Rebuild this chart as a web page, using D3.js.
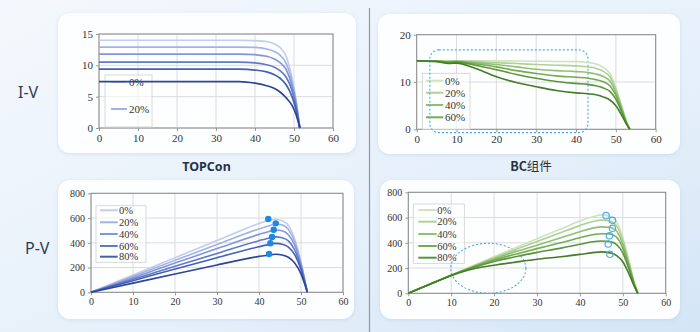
<!DOCTYPE html>
<html><head><meta charset="utf-8">
<script src="https://cdn.jsdelivr.net/npm/d3@7"></script>
<style>body{margin:0;background:#fff}svg{display:block}.serif{font-family:"Liberation Serif","Times New Roman",serif}</style>
</head><body><svg id="c" width="700" height="332"></svg>
<script>
// ---------- DATA ----------
const xTicks = [0, 10, 20, 30, 40, 50, 60];
const ivTopconTicksY = [0, 5, 10, 15];
const ivBcTicksY = [0, 10, 20];
const pvTicksY = [0, 200, 400, 600, 800];

const legendIVTopcon = ["0%", "20%"];
const legendIVBc = ["0%", "20%", "40%", "60%"];
const legendPV = ["0%", "20%", "40%", "60%", "80%"];

const blues = ["#c3ccee", "#a2b2e5", "#8296d9", "#6079c8", "#4560b3", "#2d4597"];
const greens = ["#cfe3bd", "#b0d195", "#92c072", "#75ab53", "#5a953b", "#427e27"];

// TOPCon I-V (voltage V, current A)
const topconIVVolt = [0, 36, 40, 43, 45, 46.5, 48, 49.5, 50.5, 51.5];
const topconIVCurr = [
  [14.0, 14.0, 13.95, 13.8, 13.4, 12.8, 11.4, 8.0, 4.6, 0],
  [12.9, 12.9, 12.85, 12.6, 12.2, 11.6, 10.3, 7.4, 4.3, 0],
  [11.8, 11.8, 11.7, 11.45, 11.0, 10.4, 9.3, 6.7, 3.9, 0],
  [10.5, 10.5, 10.4, 10.1, 9.7, 9.1, 8.1, 6.0, 3.5, 0],
  [9.4, 9.4, 9.25, 8.95, 8.5, 7.9, 6.9, 5.0, 3.0, 0],
  [7.4, 7.4, 7.15, 6.75, 6.3, 5.7, 4.8, 3.6, 2.2, 0]
];

// BC I-V
const bcIVVolt = [0, 5, 8, 10, 15, 20, 25, 30, 35, 40, 43, 45, 47, 48.5, 50, 51.5, 52.7, 53.5];
const bcIVCurr = [
  [14.5, 14.5, 14.5, 14.5, 14.5, 14.5, 14.45, 14.4, 14.35, 14.3, 14.1, 13.8, 13.0, 11.8, 8.8, 4.8, 1.6, 0],
  [14.5, 14.5, 14.4, 14.45, 14.3, 14.1, 13.9, 13.7, 13.55, 13.4, 13.2, 12.9, 12.2, 11.1, 8.4, 4.6, 1.5, 0],
  [14.5, 14.5, 14.3, 14.4, 14.1, 13.7, 13.2, 12.7, 12.4, 12.2, 12.0, 11.7, 11.1, 10.2, 7.8, 4.3, 1.4, 0],
  [14.5, 14.4, 14.2, 14.3, 13.8, 13.2, 12.4, 11.8, 11.3, 11.0, 10.8, 10.5, 10.0, 9.2, 7.2, 4.0, 1.3, 0],
  [14.5, 14.4, 14.1, 14.2, 13.5, 12.6, 11.6, 10.8, 10.1, 9.7, 9.5, 9.2, 8.7, 8.0, 6.4, 3.6, 1.2, 0],
  [14.5, 14.3, 13.9, 14.0, 12.8, 11.1, 9.9, 9.0, 8.2, 7.7, 7.5, 7.3, 6.8, 6.2, 5.0, 2.9, 1.0, 0]
];

// TOPCon P-V (voltage V, power W)
const topconPVVolt = [0, 10, 20, 30, 40, 42, 44, 45.5, 47, 48.5, 50, 51.5];
const topconPVPow = [
  [0, 140, 280, 418, 556, 578, 590, 578, 540, 430, 245, 0],
  [0, 129, 258, 386, 512, 533, 552, 545, 508, 410, 235, 0],
  [0, 118, 236, 353, 468, 488, 504, 497, 465, 380, 222, 0],
  [0, 105, 210, 314, 417, 435, 448, 441, 415, 342, 202, 0],
  [0, 94, 188, 280, 368, 383, 395, 389, 366, 305, 182, 0],
  [0, 74, 148, 221, 290, 300, 307, 302, 283, 236, 148, 0]
];
const topconMppV = [42.2, 44.0, 43.5, 43.1, 42.7, 42.4];
const topconMppP = [592, 557, 506, 447, 396, 309];

// BC P-V
const bcPVVolt = [0, 5, 10, 15, 20, 25, 30, 35, 40, 43, 45, 47, 48.5, 50, 51.5, 52.7, 53.5];
const bcPVPow = [
  [0, 72, 145, 217, 290, 361, 432, 502, 572, 606, 621, 611, 572, 440, 247, 84, 0],
  [0, 72, 144, 214, 282, 347, 411, 474, 536, 568, 580, 573, 538, 420, 237, 79, 0],
  [0, 72, 144, 211, 274, 330, 381, 434, 488, 516, 526, 522, 495, 390, 221, 74, 0],
  [0, 72, 143, 207, 264, 310, 354, 396, 440, 464, 472, 470, 446, 360, 206, 69, 0],
  [0, 72, 142, 202, 252, 290, 324, 354, 388, 408, 414, 409, 388, 320, 185, 63, 0],
  [0, 71, 140, 192, 222, 247, 270, 287, 308, 322, 328, 320, 301, 250, 149, 53, 0]
];
const bcMppV = [46.1, 47.6, 47.6, 46.9, 46.6, 47.0];
const bcMppP = [615, 578, 515, 456, 390, 309];

// annotation regions (data units)
const bcIVHighlight = {v0: 3.3, v1: 43, i0: -0.7, i1: 16.8};
const bcPVEllipse = {cv: 18.65, cp: 198, rv: 8.75, rp: 198};

// ---------- DRAW ----------
const svg = d3.select("#c");
const defs = svg.append("defs");
const bg = defs.append("linearGradient").attr("id", "bg").attr("x1", 0).attr("y1", 0).attr("x2", 1).attr("y2", 1);
bg.append("stop").attr("offset", "0%").attr("stop-color", "#f4f8fd");
bg.append("stop").attr("offset", "60%").attr("stop-color", "#e6f0fa");
bg.append("stop").attr("offset", "100%").attr("stop-color", "#d4e5f6");
const sh = defs.append("filter").attr("id", "sh").attr("x", "-5%").attr("y", "-5%").attr("width", "110%").attr("height", "115%");
sh.append("feDropShadow").attr("dx", 0).attr("dy", 1).attr("stdDeviation", 2).attr("flood-color", "#9fbbe0").attr("flood-opacity", 0.35);

svg.append("rect").attr("width", 700).attr("height", 332).attr("fill", "url(#bg)");

const cards = [[58, 13, 298, 140], [378, 14, 302, 140], [58, 180, 296, 139], [380, 180, 300, 139]];
svg.selectAll("rect.card").data(cards).join("rect").attr("class", "card")
  .attr("x", d => d[0]).attr("y", d => d[1]).attr("width", d => d[2]).attr("height", d => d[3])
  .attr("rx", 12).attr("fill", "#fdfeff").attr("filter", "url(#sh)");

svg.append("line").attr("x1", 369.5).attr("x2", 369.5).attr("y1", 8).attr("y2", 332)
  .attr("stroke", "#8e98a8").attr("stroke-width", 1.2);

svg.append("text").attr("x", 18).attr("y", 98).text("I-V")
  .style("font-family", "'Noto Sans', sans-serif").attr("font-size", 16).attr("fill", "#2d3b55");
svg.append("text").attr("x", 25).attr("y", 254).text("P-V")
  .style("font-family", "'Noto Sans', sans-serif").attr("font-size", 16).attr("fill", "#2d3b55");

svg.append("text").attr("x", 206.5).attr("y", 171).attr("text-anchor", "middle").text("TOPCon")
  .style("font-family", "'Noto Sans', sans-serif").attr("font-weight", "bold").attr("font-size", 12.5).attr("fill", "#283246");
const bct = svg.append("text").attr("x", 531).attr("y", 171).attr("text-anchor", "middle")
  .style("font-family", "'Noto Sans CJK SC', sans-serif").attr("font-size", 12.5).attr("fill", "#283246");
bct.append("tspan").attr("font-weight", "bold").text("BC");
bct.append("tspan").text("组件");

function panel(cfg) {
  const x = d3.scaleLinear().domain([0, 60]).range([cfg.x0, cfg.x1]);
  const y = d3.scaleLinear().domain(cfg.yDomain).range([cfg.y1, cfg.y0]);
  const g = svg.append("g");
  g.selectAll("line.gx").data(xTicks).join("line")
    .attr("x1", d => x(d)).attr("x2", d => x(d)).attr("y1", cfg.y0).attr("y2", cfg.y1)
    .attr("stroke", "#dcdcdc").attr("stroke-width", 1);
  g.selectAll("line.gy").data(cfg.yTicks).join("line")
    .attr("y1", d => y(d)).attr("y2", d => y(d)).attr("x1", cfg.x0).attr("x2", cfg.x1)
    .attr("stroke", "#dcdcdc").attr("stroke-width", 1);
  const xa = g.append("g").attr("transform", `translate(0,${cfg.y1})`)
    .call(d3.axisBottom(x).tickValues(xTicks).tickSize(3).tickPadding(3).tickSizeOuter(0));
  const ya = g.append("g").attr("transform", `translate(${cfg.x0},0)`)
    .call(d3.axisLeft(y).tickValues(cfg.yTicks).tickSize(3).tickPadding(3).tickSizeOuter(0));
  [xa, ya].forEach(a => {
    a.attr("font-family", null);
    a.select(".domain").remove();
    a.selectAll("line").attr("stroke", "#9a9a9a");
    a.selectAll("text").attr("class", "serif").attr("font-size", cfg.fs).attr("fill", "#333");
  });
  g.append("rect").attr("x", cfg.x0).attr("y", cfg.y0).attr("width", cfg.x1 - cfg.x0).attr("height", cfg.y1 - cfg.y0)
    .attr("fill", "none").attr("stroke", "#8a8a8a").attr("stroke-width", 1);
  const L = cfg.legend;
  g.append("rect").attr("x", L.bx0).attr("y", L.by0).attr("width", L.bx1 - L.bx0).attr("height", L.by1 - L.by0)
    .attr("fill", "rgba(255,255,255,0.6)").attr("stroke", "#cfcfcf").attr("stroke-width", 0.8);
  L.labels.forEach((lab, i) => {
    const yy = L.ys[i];
    g.append("line").attr("x1", L.lx0).attr("x2", L.lx1).attr("y1", yy).attr("y2", yy)
      .attr("stroke", cfg.colors[i]).attr("stroke-width", 2);
    g.append("text").attr("class", "serif").attr("x", L.tx).attr("y", yy).attr("dominant-baseline", "central")
      .attr("font-size", L.fs).attr("fill", "#333").text(lab);
  });
  if (cfg.annot) cfg.annot(g, x, y);
  const line = d3.line().x(d => x(d[0])).y(d => y(d[1])).curve(d3.curveMonotoneX);
  cfg.series.forEach((vals, i) => {
    g.append("path").datum(cfg.xs.map((v, k) => [v, vals[k]]))
      .attr("d", line).attr("fill", "none").attr("stroke", cfg.colors[i]).attr("stroke-width", cfg.lw);
  });
  if (cfg.mpp) cfg.mpp(g, x, y);
}

panel({
  x0: 99, x1: 333, y0: 34, y1: 128, yDomain: [0, 15], yTicks: ivTopconTicksY, fs: 11,
  xs: topconIVVolt, series: topconIVCurr, colors: blues, lw: 1.7,
  legend: {bx0: 105, bx1: 152, by0: 75, by1: 127, labels: legendIVTopcon, ys: [82, 109], lx0: 111, lx1: 127, tx: 129, fs: 11}
});

panel({
  x0: 416.7, x1: 655.7, y0: 34.7, y1: 129.3, yDomain: [0, 20], yTicks: ivBcTicksY, fs: 11,
  xs: bcIVVolt, series: bcIVCurr, colors: greens, lw: 1.6,
  legend: {bx0: 422.3, bx1: 470, by0: 73.3, by1: 129.3, labels: legendIVBc, ys: [80.7, 92.7, 105, 117.3], lx0: 426, lx1: 443.3, tx: 445, fs: 11},
  annot: (g, x, y) => {
    const a = bcIVHighlight;
    g.append("rect").attr("x", x(a.v0)).attr("y", y(a.i1)).attr("width", x(a.v1) - x(a.v0)).attr("height", y(a.i0) - y(a.i1))
      .attr("rx", 9).attr("fill", "none").attr("stroke", "#4aa9e6").attr("stroke-width", 1.1).attr("stroke-dasharray", "2,2");
  }
});

panel({
  x0: 91, x1: 343, y0: 193.3, y1: 292.3, yDomain: [0, 800], yTicks: pvTicksY, fs: 10,
  xs: topconPVVolt, series: topconPVPow, colors: blues, lw: 1.6,
  legend: {bx0: 96, bx1: 146, by0: 205.7, by1: 262.3, labels: legendPV, ys: [210.3, 222.3, 234, 246, 256.7], lx0: 100, lx1: 117.7, tx: 119, fs: 10.5},
  mpp: (g, x, y) => {
    g.selectAll("circle.m").data(topconMppV).join("circle")
      .attr("cx", d => x(d)).attr("cy", (d, i) => y(topconMppP[i])).attr("r", 3.2).attr("fill", "#1b8ae0");
  }
});

panel({
  x0: 408.3, x1: 665.7, y0: 192.3, y1: 293.3, yDomain: [0, 800], yTicks: pvTicksY, fs: 10,
  xs: bcPVVolt, series: bcPVPow, colors: greens, lw: 1.6,
  legend: {bx0: 413.3, bx1: 464.3, by0: 204, by1: 263.3, labels: legendPV, ys: [210, 221.7, 234, 246, 257.7], lx0: 418.3, lx1: 436.7, tx: 437.3, fs: 10.5},
  annot: (g, x, y) => {
    const e = bcPVEllipse;
    g.append("ellipse").attr("cx", x(e.cv)).attr("cy", y(e.cp)).attr("rx", x(e.cv + e.rv) - x(e.cv)).attr("ry", y(e.cp - e.rp) - y(e.cp))
      .attr("fill", "none").attr("stroke", "#4aa9e6").attr("stroke-width", 1.1).attr("stroke-dasharray", "2,2");
  },
  mpp: (g, x, y) => {
    g.selectAll("circle.m").data(bcMppV).join("circle")
      .attr("cx", d => x(d)).attr("cy", (d, i) => y(bcMppP[i])).attr("r", 3.2)
      .attr("fill", "none").attr("stroke", "#4aaee8").attr("stroke-width", 1.2);
  }
});
</script></body></html>
